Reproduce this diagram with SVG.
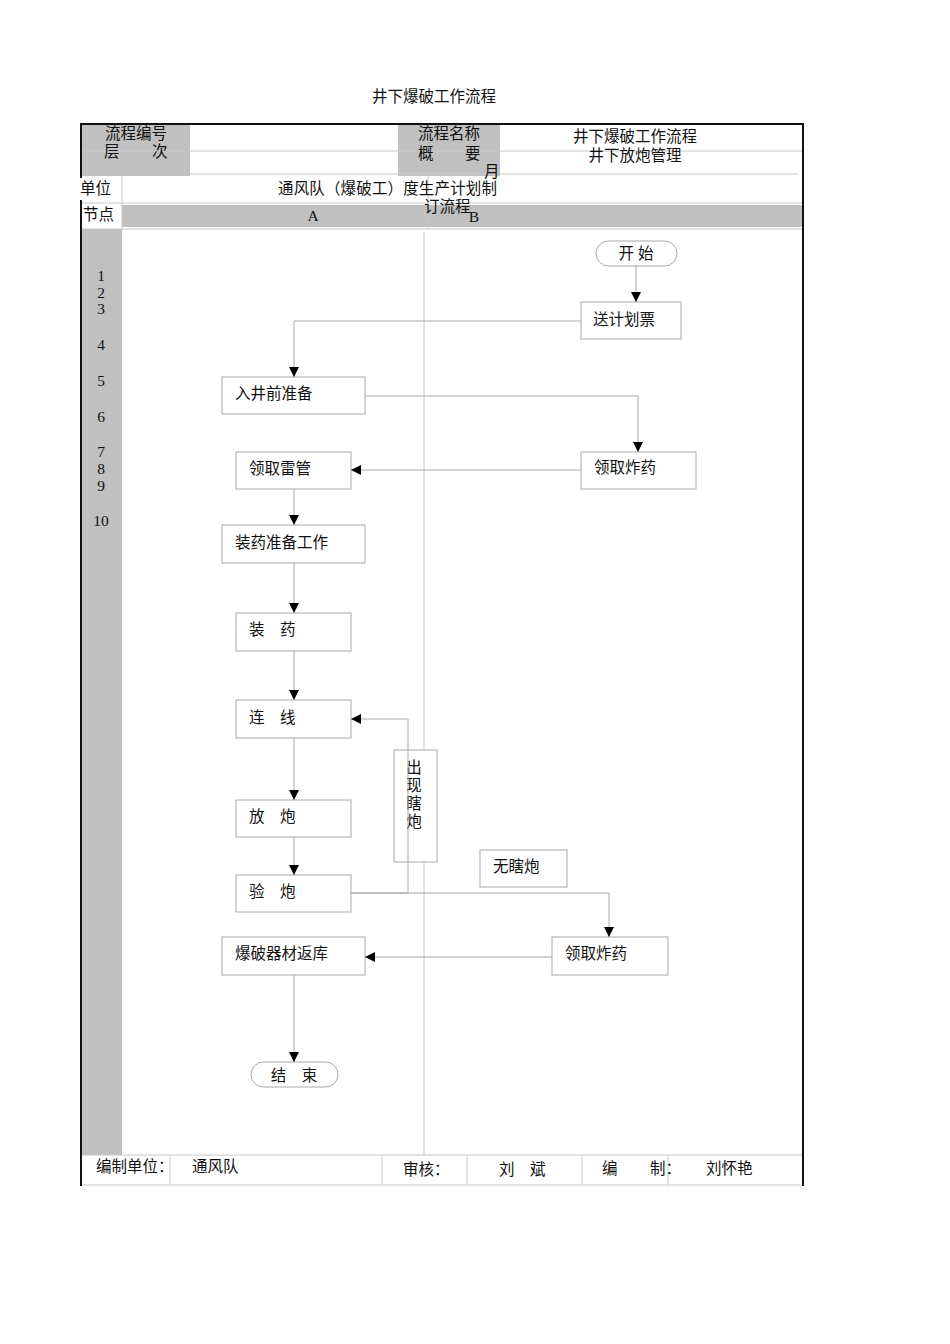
<svg xmlns="http://www.w3.org/2000/svg" width="950" height="1344" viewBox="0 0 950 1344">
<defs>
<style>
text{font-family:"Liberation Serif","Noto Sans CJK SC",serif;font-size:15.5px;fill:#111;}
.c{text-anchor:middle;}
.g{fill:#c0c0c0;stroke:none;}
.thin{stroke:#c8c8c8;stroke-width:1;fill:none;}
.bd{stroke:#111;stroke-width:2;fill:none;}
.box{fill:#fff;stroke:#a8a8a8;stroke-width:1;}
.ln{stroke:#a8a8a8;stroke-width:1;fill:none;}
</style>
<marker id="ah" viewBox="0 0 10 10" refX="10" refY="5" markerWidth="10" markerHeight="10" markerUnits="userSpaceOnUse" orient="auto">
<path d="M0,0 L10,5 L0,10 Z" fill="#000"/>
</marker>
</defs>
<rect width="950" height="1344" fill="#fff"/>
<text class="c" x="434" y="102">井下爆破工作流程</text>
<g id="table">
<rect class="g" x="81" y="124" width="109" height="52"/>
<rect class="g" x="398" y="124" width="102" height="52"/>
<rect class="g" x="122" y="205" width="681" height="22"/>
<rect class="g" x="81" y="229" width="41" height="926"/>
<line class="thin" x1="81" y1="151" x2="803" y2="151"/>
<line class="thin" x1="190" y1="174" x2="798" y2="174"/>
<line class="thin" x1="81" y1="203" x2="803" y2="203"/>
<line class="thin" x1="81" y1="229" x2="803" y2="229"/>
<line class="thin" x1="122" y1="176" x2="122" y2="229"/>
<line class="thin" x1="428" y1="176" x2="428" y2="229"/>
<line class="thin" x1="81" y1="1155" x2="803" y2="1155"/>
<line class="thin" x1="81" y1="1185" x2="803" y2="1185"/>
<line class="thin" x1="170" y1="1155" x2="170" y2="1185"/>
<line class="thin" x1="382" y1="1155" x2="382" y2="1185"/>
<line class="thin" x1="467" y1="1155" x2="467" y2="1185"/>
<line class="thin" x1="582" y1="1155" x2="582" y2="1185"/>
<line class="thin" x1="668" y1="1155" x2="668" y2="1185"/>
<line class="bd" x1="80" y1="124" x2="804" y2="124"/>
<line class="bd" x1="81" y1="124" x2="81" y2="178"/>
<line class="bd" x1="81" y1="200" x2="81" y2="1186"/>
<line class="bd" x1="803" y1="124" x2="803" y2="1186"/>
<text class="c" x="136" y="139">流程编号</text>
<text x="104" y="157">层</text>
<text x="152" y="157">次</text>
<text class="c" x="449" y="139">流程名称</text>
<text x="418" y="159">概</text>
<text x="465" y="159">要</text>
<text class="c" x="635" y="142">井下爆破工作流程</text>
<text class="c" x="635" y="161">井下放炮管理</text>
<text x="484" y="177">月</text>
<text x="80" y="194">单位</text>
<text x="278" y="194" textLength="219" lengthAdjust="spacing">通风队（爆破工）度生产计划制</text>
<text x="424" y="212">订流程</text>
<text class="c" x="474" y="222">B</text>
<text x="83" y="220">节点</text>
<text class="c" x="313" y="221">A</text>
<text class="c" x="101" y="281">1</text>
<text class="c" x="101" y="298">2</text>
<text class="c" x="101" y="314">3</text>
<text class="c" x="101" y="350">4</text>
<text class="c" x="101" y="386">5</text>
<text class="c" x="101" y="422">6</text>
<text class="c" x="101" y="457">7</text>
<text class="c" x="101" y="474">8</text>
<text class="c" x="101" y="491">9</text>
<text class="c" x="101" y="526">10</text>
<text x="96" y="1172">编制单位：</text>
<text x="192" y="1172">通风队</text>
<text x="403" y="1175">审核：</text>
<text x="499" y="1175">刘</text>
<text x="530" y="1175">斌</text>
<text x="602" y="1174">编</text>
<text x="650" y="1174">制：</text>
<text x="706" y="1174">刘怀艳</text>
</g>
<line class="thin" x1="424" y1="232" x2="424" y2="1155"/>
<g id="n-start"><rect class="box" x="596" y="241" width="81" height="25" rx="12.5"/><text class="c" x="636" y="259">开 始</text></g>
<g id="n-send"><rect class="box" x="581" y="302" width="100" height="37"/><text x="593" y="325">送计划票</text></g>
<g id="n-prep"><rect class="box" x="222" y="377" width="143" height="37"/><text x="235" y="399">入井前准备</text></g>
<g id="n-exp1"><rect class="box" x="581" y="452" width="115" height="37"/><text x="594" y="473">领取炸药</text></g>
<g id="n-det"><rect class="box" x="236" y="452" width="115" height="37"/><text x="249" y="474">领取雷管</text></g>
<g id="n-chgprep"><rect class="box" x="222" y="525" width="143" height="38"/><text x="235" y="548">装药准备工作</text></g>
<g id="n-charge"><rect class="box" x="236" y="613" width="115" height="38"/><text x="249" y="635">装　药</text></g>
<g id="n-wire"><rect class="box" x="236" y="700" width="115" height="38"/><text x="249" y="723">连　线</text></g>
<g id="n-fire"><rect class="box" x="236" y="800" width="115" height="37"/><text x="249" y="822">放　炮</text></g>
<g id="n-check"><rect class="box" x="236" y="875" width="115" height="37"/><text x="249" y="897">验　炮</text></g>
<g id="n-misfire"><rect class="box" x="394" y="750" width="43" height="112"/>
<text class="c" x="414" y="773">出</text><text class="c" x="414" y="791">现</text><text class="c" x="414" y="809">瞎</text><text class="c" x="414" y="827">炮</text></g>
<g id="n-nomis"><rect class="box" x="480" y="850" width="87" height="37"/><text x="493" y="872">无瞎炮</text></g>
<g id="n-exp2"><rect class="box" x="552" y="937" width="116" height="38"/><text x="565" y="959">领取炸药</text></g>
<g id="n-return"><rect class="box" x="222" y="937" width="143" height="38"/><text x="235" y="959">爆破器材返库</text></g>
<g id="n-end"><rect class="box" x="251" y="1062" width="87" height="25" rx="12.5"/><text class="c" x="294" y="1081">结　束</text></g>
<g id="connectors">
<path class="ln" d="M636,266 V302" marker-end="url(#ah)"/>
<path class="ln" d="M581,321 H294 V377" marker-end="url(#ah)"/>
<path class="ln" d="M365,396 H638 V452" marker-end="url(#ah)"/>
<path class="ln" d="M581,470 H351" marker-end="url(#ah)"/>
<path class="ln" d="M294,489 V525" marker-end="url(#ah)"/>
<path class="ln" d="M294,563 V613" marker-end="url(#ah)"/>
<path class="ln" d="M294,651 V700" marker-end="url(#ah)"/>
<path class="ln" d="M294,738 V800" marker-end="url(#ah)"/>
<path class="ln" d="M294,837 V875" marker-end="url(#ah)"/>
<path class="ln" d="M351,893 H408 V719 H351" marker-end="url(#ah)"/>
<path class="ln" d="M351,893 H609 V937" marker-end="url(#ah)"/>
<path class="ln" d="M552,957 H365" marker-end="url(#ah)"/>
<path class="ln" d="M294,975 V1062" marker-end="url(#ah)"/>
</g>
</svg>
